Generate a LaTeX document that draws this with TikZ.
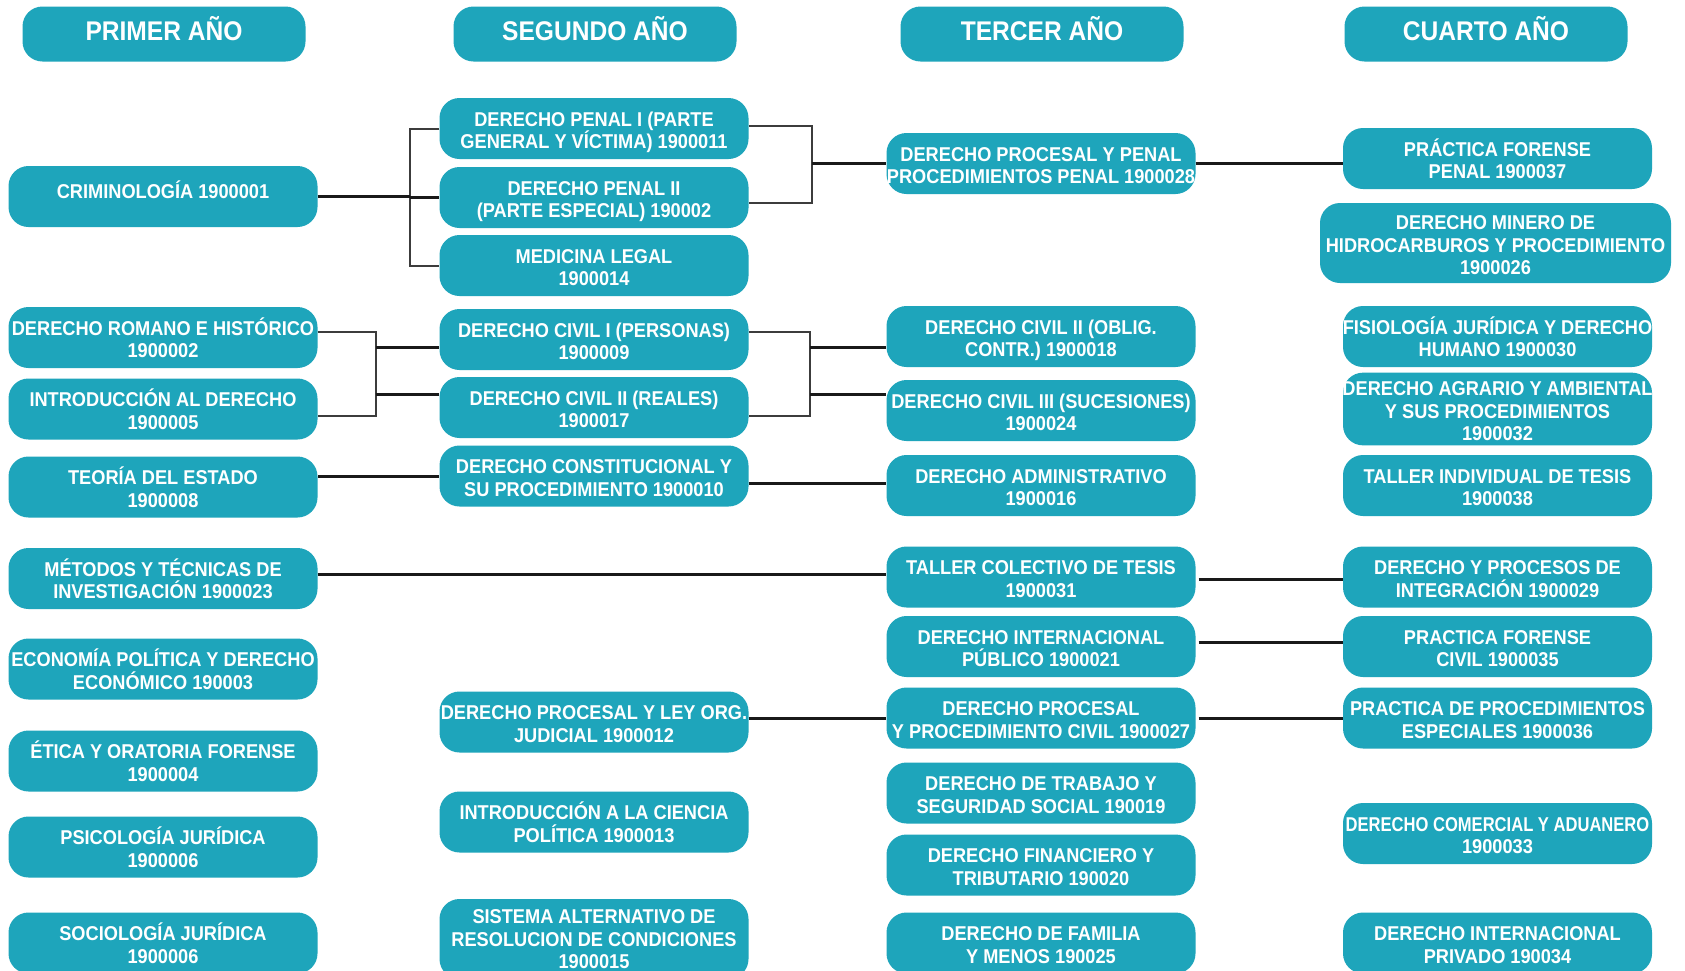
\documentclass[tikz,border=0pt]{standalone}
\usepackage{fontspec}
\usepackage{graphicx}
\setmainfont{Liberation Sans}[FakeStretch=0.91]
\definecolor{tealbox}{RGB}{30,165,187}
\definecolor{lineblack}{RGB}{25,25,25}
\definecolor{bracketgray}{RGB}{60,60,60}
\newcommand\tbx[1]{\rule{0pt}{23pt}#1\rule[-4.7pt]{0pt}{4.7pt}}
\newcommand\tbs[1]{\rule{0pt}{19pt}#1\rule[-4.7pt]{0pt}{4.7pt}}
\newcommand\tbup[1]{\rule{0pt}{19pt}#1\rule[-14.7pt]{0pt}{14.7pt}}
\tikzset{
  box/.style={fill=tealbox, rounded corners=20pt, minimum width=309pt, minimum height=61pt,
    inner xsep=-20pt, inner ysep=0pt, align=center, text=white,
    font=\bfseries\fontsize{20}{22.5}\selectfont},
  head/.style={box, minimum width=283pt, minimum height=55pt,
    font=\bfseries\fontsize{27}{30}\selectfont,
    execute at begin node={\rule{0pt}{25pt}},
    execute at end node={\rule[-11.7pt]{0pt}{11.7pt}}},
  mline/.style={draw=lineblack, line width=3pt},
  bline/.style={draw=bracketgray, line width=2pt},
}
\begin{document}
\begin{tikzpicture}[x=1pt,y=-1pt]
\useasboundingbox (0,0) rectangle (1685,970);
\fill[white] (0,0) rectangle (1685,970);
% headers
\node[head] (h1) at (164,34) {PRIMER AÑO};
\node[head] (h2) at (595,34) {SEGUNDO AÑO};
\node[head] (h3) at (1042,34) {TERCER AÑO};
\node[head] (h4) at (1486,34) {CUARTO AÑO};
% column 1
\node[box] (crim) at (163,196.5) {\tbup{CRIMINOLOGÍA 1900001}};
\node[box] (rom) at (163,337.5) {\tbx{DERECHO ROMANO E HISTÓRICO\\1900002}};
\node[box] (intro) at (163,409) {\tbx{INTRODUCCIÓN AL DERECHO\\1900005}};
\node[box] (teo) at (163,487) {\tbx{TEORÍA DEL ESTADO\\1900008}};
\node[box] (met) at (163,578.5) {\tbx{MÉTODOS Y TÉCNICAS DE\\INVESTIGACIÓN 1900023}};
\node[box] (eco) at (163,669) {\tbx{ECONOMÍA POLÍTICA Y DERECHO\\ECONÓMICO 190003}};
\node[box] (eti) at (163,761) {\tbx{ÉTICA Y ORATORIA FORENSE\\1900004}};
\node[box] (psi) at (163,847) {\tbx{PSICOLOGÍA JURÍDICA\\1900006}};
\node[box] (soc) at (163,943) {\tbx{SOCIOLOGÍA JURÍDICA\\1900006}};
% column 2
\node[box] (dp1) at (594,128.5) {\tbx{DERECHO PENAL I (PARTE\\GENERAL Y VÍCTIMA) 1900011}};
\node[box] (dp2) at (594,197.5) {\tbx{DERECHO PENAL II\\(PARTE ESPECIAL) 190002}};
\node[box] (med) at (594,265.5) {\tbx{MEDICINA LEGAL\\1900014}};
\node[box] (ci1) at (594,339.5) {\tbx{DERECHO CIVIL I (PERSONAS)\\1900009}};
\node[box] (ci2) at (594,407.5) {\tbx{DERECHO CIVIL II (REALES)\\1900017}};
\node[box] (con) at (594,476) {\tbx{DERECHO CONSTITUCIONAL Y\\SU PROCEDIMIENTO 1900010}};
\node[box] (plo) at (594,722) {\tbx{DERECHO PROCESAL Y LEY ORG.\\JUDICIAL 1900012}};
\node[box] (icp) at (594,822) {\tbx{INTRODUCCIÓN A LA CIENCIA\\POLÍTICA 1900013}};
\node[box, minimum height=80pt] (sis) at (594,939) {\tbs{SISTEMA ALTERNATIVO DE\\RESOLUCION DE CONDICIONES\\1900015}};
% column 3
\node[box] (dpp) at (1041,163.5) {\tbx{DERECHO PROCESAL Y PENAL\\PROCEDIMIENTOS PENAL 1900028}};
\node[box] (cob) at (1041,336.5) {\tbx{DERECHO CIVIL II (OBLIG.\\CONTR.) 1900018}};
\node[box] (csu) at (1041,410.5) {\tbx{DERECHO CIVIL III (SUCESIONES)\\1900024}};
\node[box] (adm) at (1041,485.5) {\tbx{DERECHO ADMINISTRATIVO\\1900016}};
\node[box] (tct) at (1041,577) {\tbx{TALLER COLECTIVO DE TESIS\\1900031}};
\node[box] (dip) at (1041,646.5) {\tbx{DERECHO INTERNACIONAL\\PÚBLICO 1900021}};
\node[box] (pci) at (1041,718) {\tbx{DERECHO PROCESAL\\Y PROCEDIMIENTO CIVIL 1900027}};
\node[box] (tra) at (1041,793) {\tbx{DERECHO DE TRABAJO Y\\SEGURIDAD SOCIAL 190019}};
\node[box] (fin) at (1041,865) {\tbx{DERECHO FINANCIERO Y\\TRIBUTARIO 190020}};
\node[box] (fam) at (1041,943) {\tbx{DERECHO DE FAMILIA\\Y MENOS 190025}};
% column 4
\node[box] (pfp) at (1497.5,158.5) {\tbx{PRÁCTICA FORENSE\\PENAL 1900037}};
\node[box, minimum width=351pt, minimum height=80pt] (mine) at (1495.5,243) {\tbx{DERECHO MINERO DE\\HIDROCARBUROS Y PROCEDIMIENTO\\1900026}};
\node[box] (fis) at (1497.5,336.5) {\tbx{FISIOLOGÍA JURÍDICA Y DERECHO\\HUMANO 1900030}};
\node[box, minimum height=70pt] (agr) at (1497.5,409) {\tbx{DERECHO AGRARIO Y AMBIENTAL\\Y SUS PROCEDIMIENTOS\\1900032}};
\node[box] (tit) at (1497.5,485.5) {\tbx{TALLER INDIVIDUAL DE TESIS\\1900038}};
\node[box] (dyp) at (1497.5,577) {\tbx{DERECHO Y PROCESOS DE\\INTEGRACIÓN 1900029}};
\node[box] (pfc) at (1497.5,646.5) {\tbx{PRACTICA FORENSE\\CIVIL 1900035}};
\node[box] (pes) at (1497.5,718) {\tbx{PRACTICA DE PROCEDIMIENTOS\\ESPECIALES 1900036}};
\node[box] (com) at (1497.5,833.5) {\tbx{\scalebox{0.91}[1]{DERECHO COMERCIAL Y ADUANERO}\\1900033}};
\node[box] (dpr) at (1497.5,943) {\tbx{DERECHO INTERNACIONAL\\PRIVADO 190034}};
% junction x positions
\coordinate (j1) at (410,0);
\coordinate (j2) at (812,0);
\coordinate (j3) at (375.5,0);
\coordinate (j4) at (810,0);
% criminologia -> penal I, II, medicina
\draw[bline] (dp1.west) -| (j1 |- med) -- (med.west);
\draw[mline] (crim.east) -- (j1 |- crim);
\draw[mline] (j1 |- dp2) -- (dp2.west);
% penal I, II -> procesal penal
\coordinate (q1) at ([yshift=2.5pt]dp1.east);
\coordinate (q2) at ([yshift=-5.5pt]dp2.east);
\draw[bline] (q1) -| (j2 |- q2) -- (q2);
\draw[mline] (j2 |- dpp) -- (dpp.west);
\coordinate (c0) at ([yshift=-5pt]pfp.west);
\draw[mline] (dpp.east) -- (c0);
% romano, intro -> civil I, II
\coordinate (r1) at ([yshift=5.5pt]rom.east);
\coordinate (r2) at ([yshift=-7pt]intro.east);
\draw[bline] (r1) -| (j3 |- r2) -- (r2);
\coordinate (r3) at ([yshift=-8pt]ci1.west);
\coordinate (r4) at ([yshift=12.8pt]ci2.west);
\draw[mline] (j3 |- r3) -- (r3);
\draw[mline] (j3 |- r4) -- (r4);
% civil I, II -> civil oblig, sucesiones
\coordinate (s1) at ([yshift=7.5pt]ci1.east);
\coordinate (s2) at ([yshift=-8.2pt]ci2.east);
\draw[bline] (s1) -| (j4 |- s2) -- (s2);
\coordinate (s3) at ([yshift=-10.8pt]cob.west);
\coordinate (s4) at ([yshift=16.5pt]csu.west);
\draw[mline] (j4 |- s3) -- (s3);
\draw[mline] (j4 |- s4) -- (s4);
% teoria -> constitucional -> administrativo
\draw[mline] (teo.east |- con) -- (con.west);
\coordinate (a1) at ([yshift=-7pt]con.east);
\draw[mline] (a1) -- (adm.west |- a1);
% metodos -> taller colectivo -> derecho y procesos
\coordinate (m1) at ([yshift=3pt]tct.west);
\draw[mline] (met.east |- m1) -- (m1);
\coordinate (m2) at ([yshift=-2.3pt]tct.east);
\draw[mline] ([xshift=3pt]m2) -- (dyp.west |- m2);
% internacional publico -> forense civil
\coordinate (p1) at ([yshift=4pt]dip.east);
\draw[mline] ([xshift=3pt]p1) -- (pfc.west |- p1);
% procesal ley org -> procesal civil -> especiales
\draw[mline] (plo.east |- pci) -- (pci.west);
\draw[mline] ([xshift=3pt]pci.east) -- (pes.west);
\end{tikzpicture}
\end{document}
